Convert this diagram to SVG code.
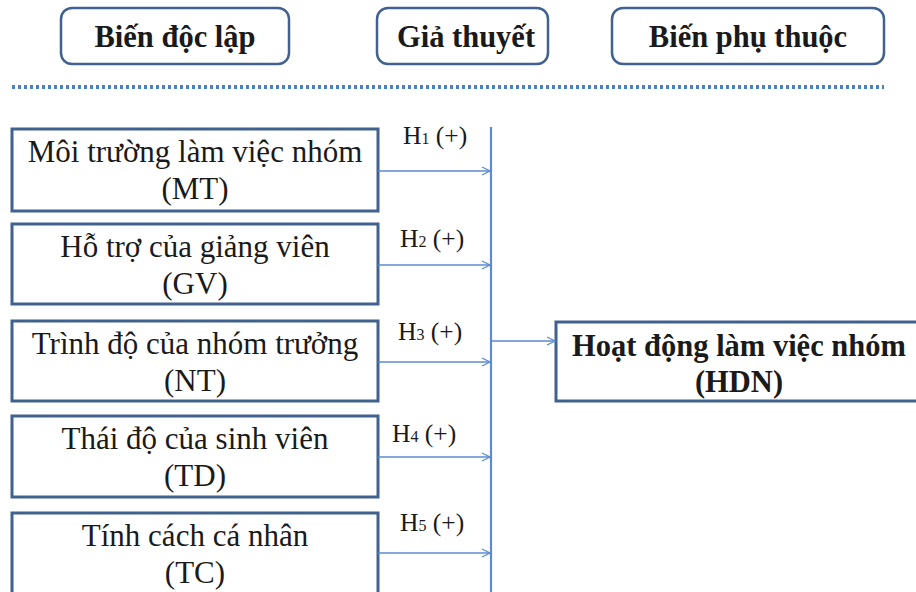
<svg xmlns="http://www.w3.org/2000/svg" width="916" height="592" viewBox="0 0 916 592" font-family="Liberation Serif, Times New Roman, serif">
<defs>
<marker id="arr" markerWidth="10" markerHeight="10" refX="9" refY="5" orient="auto" markerUnits="userSpaceOnUse">
<path d="M1,1 L9,5 L1,9" fill="none" stroke="#5B8BD0" stroke-width="1.2"/>
</marker>
</defs>
<style>
.hdr{fill:#fff;stroke:#41618F;stroke-width:2.5}
.box{fill:#fff;stroke:#41618F;stroke-width:3}
.ht{font-weight:bold;font-size:30.5px;fill:#1A1A1A;text-anchor:middle}
.bt{font-size:31px;fill:#1A1A1A;text-anchor:middle}
.bb{font-weight:bold;font-size:30.5px;fill:#1A1A1A;text-anchor:middle}
.lab{font-size:25.5px;fill:#1A1A1A}
.sub{font-size:16px}
.con{stroke:#5B8BD0;stroke-width:1.3;fill:none}
</style>
<rect width="916" height="592" fill="#fff"/>
<g id="header-bien-doc-lap">
<rect class="hdr" x="61" y="8" width="228" height="56" rx="11"/>
<text class="ht" x="175" y="47">Biến độc lập</text>
</g>
<g id="header-gia-thuyet">
<rect class="hdr" x="377" y="8" width="171" height="56" rx="11"/>
<text class="ht" x="466" y="47">Giả thuyết</text>
</g>
<g id="header-bien-phu-thuoc">
<rect class="hdr" x="612" y="8" width="272" height="56" rx="11"/>
<text class="ht" x="748" y="47">Biến phụ thuộc</text>
</g>
<line id="divider" x1="12" y1="87" x2="884" y2="87" stroke="#4A7FC1" stroke-width="4" stroke-dasharray="3,3"/>
<g id="MT">
<rect class="box" x="12" y="129" width="366" height="82"/>
<text class="bt" x="195" y="162">Môi trường làm việc nhóm</text>
<text class="bt" x="195" y="199">(MT)</text>
</g>
<g id="GV">
<rect class="box" x="12" y="224" width="366" height="80"/>
<text class="bt" x="195" y="257">Hỗ trợ của giảng viên</text>
<text class="bt" x="195" y="294">(GV)</text>
</g>
<g id="NT">
<rect class="box" x="12" y="321" width="366" height="80"/>
<text class="bt" x="195" y="354">Trình độ của nhóm trưởng</text>
<text class="bt" x="195" y="391">(NT)</text>
</g>
<g id="TD">
<rect class="box" x="12" y="416" width="366" height="81"/>
<text class="bt" x="195" y="449">Thái độ của sinh viên</text>
<text class="bt" x="195" y="486">(TD)</text>
</g>
<g id="TC">
<rect class="box" x="12" y="513" width="366" height="95"/>
<text class="bt" x="195" y="546">Tính cách cá nhân</text>
<text class="bt" x="195" y="583">(TC)</text>
</g>
<g id="HDN">
<rect class="box" x="556" y="322" width="380" height="79"/>
<text class="bb" x="739" y="356">Hoạt động làm việc nhóm</text>
<text class="bb" x="739" y="392">(HDN)</text>
</g>
<g id="connectors">
<line class="con" x1="491" y1="127" x2="491" y2="592" style="stroke-width:2.2"/>
<line class="con" x1="378" y1="171" x2="490" y2="171" marker-end="url(#arr)"/>
<line class="con" x1="378" y1="265" x2="490" y2="265" marker-end="url(#arr)"/>
<line class="con" x1="378" y1="362" x2="490" y2="362" marker-end="url(#arr)"/>
<line class="con" x1="378" y1="457" x2="490" y2="457" marker-end="url(#arr)"/>
<line class="con" x1="378" y1="553" x2="490" y2="553" marker-end="url(#arr)"/>
<line class="con" x1="492" y1="341" x2="555" y2="341" marker-end="url(#arr)"/>
<text class="lab" x="403" y="144">H<tspan class="sub">1</tspan> (+)</text>
<text class="lab" x="400" y="247">H<tspan class="sub">2</tspan> (+)</text>
<text class="lab" x="398" y="340">H<tspan class="sub">3</tspan> (+)</text>
<text class="lab" x="392" y="442">H<tspan class="sub">4</tspan> (+)</text>
<text class="lab" x="400" y="531">H<tspan class="sub">5</tspan> (+)</text>
</g>
</svg>
